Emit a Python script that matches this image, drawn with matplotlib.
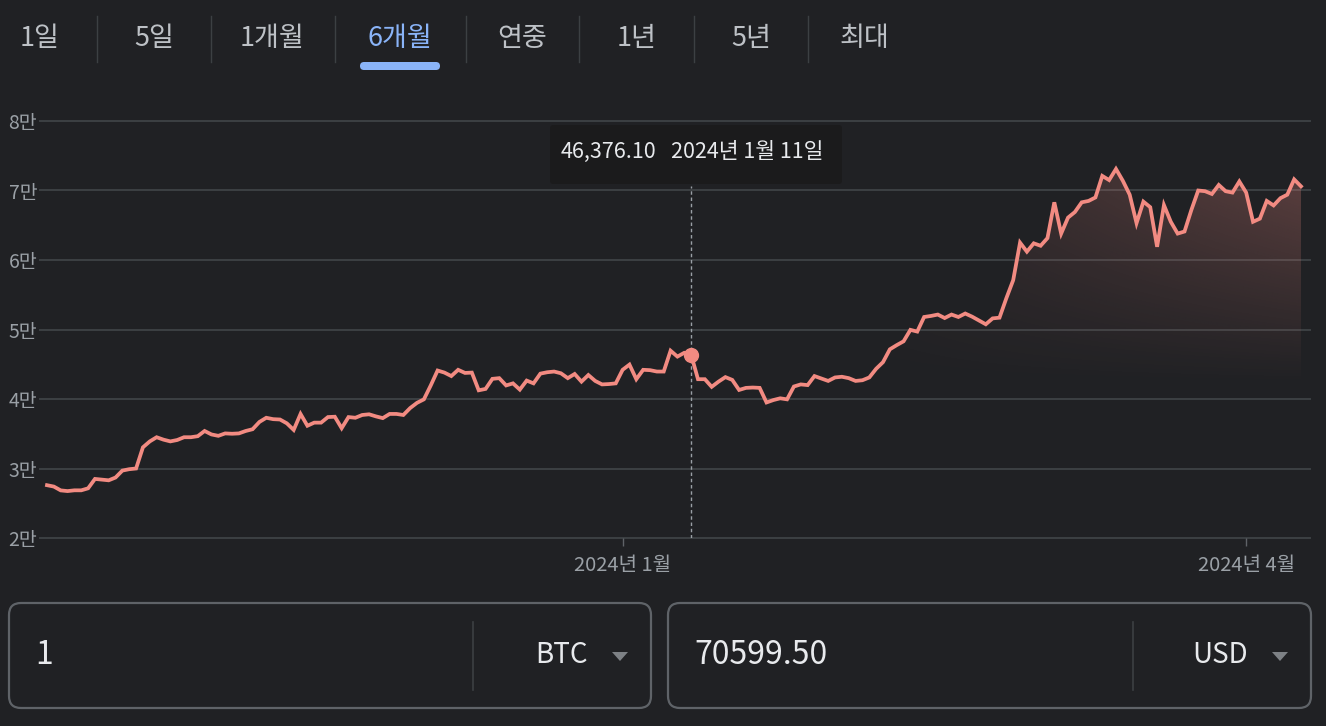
import numpy as np
import pandas as pd
import matplotlib
matplotlib.use('Agg')
import matplotlib.pyplot as plt
import matplotlib.dates as mdates
from matplotlib.patches import FancyBboxPatch, Polygon

plt.rcParams['font.family'] = ['Noto Sans CJK KR', 'DejaVu Sans']

# ---- data ----
tabs = ['1일', '5일', '1개월', '6개월', '연중', '1년', '5년', '최대']
selected_tab = '6개월'

dates = pd.date_range('2023-10-09', '2024-04-09', freq='D')
prices = [
    # Oct 9 - Oct 31
    27600, 27400, 26850, 26750, 26860, 26860, 27150, 28500, 28400, 28300,
    28700, 29700, 29900, 30000, 33050, 33900, 34500, 34150, 33900, 34100,
    34500, 34500, 34650,
    # Nov
    35400, 34900, 34700, 35050, 35000, 35050, 35400, 35650, 36700, 37300,
    37100, 37050, 36500, 35550, 37850, 36150, 36600, 36600, 37400, 37450,
    35800, 37400, 37300, 37700, 37800, 37500, 37250, 37850, 37850, 37700,
    # Dec
    38700, 39450, 39950, 41950, 44100, 43800, 43300, 44200, 43750, 43800,
    41250, 41450, 42900, 43000, 41950, 42250, 41350, 42650, 42250, 43650,
    43850, 43950, 43700, 43000, 43600, 42500, 43450, 42600, 42100, 42150,
    42250,
    # Jan
    44200, 44950, 42850, 44200, 44150, 43950, 43950, 46950, 46100, 46650,
    46376.10, 42850, 42850, 41750, 42500, 43150, 42750, 41300, 41600, 41650,
    41600, 39500, 39850, 40100, 39950, 41800, 42100, 42000, 43300, 42950,
    42600,
    # Feb
    43100, 43200, 43000, 42600, 42700, 43100, 44350, 45300, 47150, 47750,
    48300, 49950, 49700, 51800, 51950, 52150, 51650, 52150, 51800, 52300,
    51850, 51300, 50750, 51600, 51700, 54500, 57100, 62500, 61200,
    # Mar
    62400, 62050, 63150, 68300, 63800, 66100, 66900, 68300, 68500, 69000,
    72100, 71500, 73100, 71400, 69400, 65300, 68400, 67600, 61900, 67900,
    65500, 63800, 64100, 67200, 70000, 69900, 69500, 70800, 69900, 69700,
    71300,
    # Apr 1 - Apr 9
    69700, 65500, 65950, 68500, 67850, 68900, 69400, 71600, 70599.50,
]

y_ticks = [20000, 30000, 40000, 50000, 60000, 70000, 80000]
y_tick_labels = ['2만', '3만', '4만', '5만', '6만', '7만', '8만']
x_ticks = pd.to_datetime(['2024-01-01', '2024-04-01'])
x_tick_labels = ['2024년 1월', '2024년 4월']

hover_date = pd.Timestamp('2024-01-11')
hover_text = '46,376.10'
hover_label = '2024년 1월 11일'

amount = '1'
from_cur = 'BTC'
converted = '70599.50'
to_cur = 'USD'

# ---- style ----
BG = '#202124'
LINE = '#f28b82'
GRID = '#3c4043'
MUTED = '#9aa0a6'
TEXT = '#e8eaed'
BLUE = '#8ab4f8'
W, H = 1326, 726

fig = plt.figure(figsize=(W / 100, H / 100), dpi=100, facecolor=BG)

# chart axes: pixel box x 40..1310, y 121..538
ax = fig.add_axes([40 / W, 1 - 538 / H, 1270 / W, 417 / H])
ax.set_facecolor(BG)
for s in ax.spines.values():
    s.set_visible(False)

xnum = mdates.date2num(dates)
px_day = (1301 - 47) / (len(dates) - 1)
ax.set_xlim(xnum[0] - 7 / px_day, xnum[0] + (1310 - 47) / px_day)
ax.set_ylim(20000, 80000)

for yt in y_ticks:
    ax.axhline(yt, color=GRID, lw=1.4, zorder=0, clip_on=False)

ax.set_yticks(y_ticks)
ax.set_yticklabels(y_tick_labels)
ax.set_xticks(x_ticks)
ax.set_xticklabels(x_tick_labels)
ax.tick_params(axis='y', length=0, pad=2, labelsize=14, labelcolor=MUTED)
ax.tick_params(axis='x', direction='out', length=6, width=1, color='#5f6368',
               pad=6, labelsize=14.5, labelcolor=MUTED)

# gradient area under the line (fades to the left and downward)
p = np.array(prices)
gx = np.linspace(xnum[0], xnum[-1], 400)
gy = np.linspace(20000, 80000, 300)
GX, GY = np.meshgrid(gx, gy)
hx = np.clip((GX - xnum[0] - 108) / (xnum[-1] - xnum[0] - 108), 0, 1)
vy = np.clip((GY - 42000) / (70000 - 42000), 0, 1)
rgba = np.zeros(GX.shape + (4,))
rgba[..., 0], rgba[..., 1], rgba[..., 2] = 242 / 255, 139 / 255, 130 / 255
rgba[..., 3] = 0.26 * hx * vy
img = ax.imshow(rgba, extent=[xnum[0], xnum[-1], 20000, 80000], origin='lower',
                aspect='auto', zorder=1, interpolation='bilinear')
verts = np.vstack([np.column_stack([xnum, p]),
                   [[xnum[-1], 20000], [xnum[0], 20000]]])
poly = Polygon(verts, closed=True, facecolor='none', edgecolor='none')
ax.add_patch(poly)
img.set_clip_path(poly)

ax.plot(xnum, p, color=LINE, lw=2.7, zorder=3, solid_joinstyle='miter')

# hover marker
hx_num = mdates.date2num(hover_date)
hover_price = p[list(dates).index(hover_date)]
ax.plot([hx_num, hx_num], [20000, 70600], color=MUTED, lw=1, ls=(0, (2.5, 2)),
        zorder=2)
ax.plot(hx_num, hover_price, 'o', ms=10, color=LINE, zorder=4)

# ---- overlay in pixel coordinates ----
ov = fig.add_axes([0, 0, 1, 1])
ov.set_xlim(0, W)
ov.set_ylim(H, 0)
ov.axis('off')

# tabs
tab_x = [40, 154, 272, 400, 522, 637, 751, 864]
sep_x = [97, 211, 335, 466, 579, 694, 808]
for t, x in zip(tabs, tab_x):
    c = BLUE if t == selected_tab else '#bdc1c6'
    ov.text(x, 38, t, color=c, fontsize=19.5, ha='center', va='center')
for x in sep_x:
    ov.plot([x, x], [16, 62], color=GRID, lw=1)
sel = tab_x[tabs.index(selected_tab)]
ov.add_patch(FancyBboxPatch((sel - 40, 62), 80, 8,
                            boxstyle='round,pad=0,rounding_size=4',
                            facecolor=BLUE, edgecolor='none'))

# tooltip
ov.add_patch(FancyBboxPatch((550, 125), 292, 59,
                            boxstyle='round,pad=0,rounding_size=3',
                            facecolor='#1b1b1c', edgecolor='none'))
ov.text(561, 152, hover_text, color=TEXT, fontsize=15.5, ha='left', va='center')
ov.text(671, 152, hover_label, color=TEXT, fontsize=15.5, ha='left', va='center')

# converter boxes
for bx, bw, sepx, val, cur, trix in [(9, 642, 473, amount, from_cur, 620),
                                     (668, 643, 1133, converted, to_cur, 1280)]:
    ov.add_patch(FancyBboxPatch((bx, 603), bw, 105,
                                boxstyle='round,pad=0,rounding_size=12',
                                facecolor='none', edgecolor='#5f6368', lw=1.6))
    ov.plot([sepx, sepx], [622, 690], color=GRID, lw=1.2)
    ov.text(bx + 26, 655, val, color=TEXT, fontsize=23, ha='left', va='center')
    ov.text(trix - 32, 655, cur, color=TEXT, fontsize=20, ha='right', va='center')
    ov.add_patch(Polygon([[trix - 8, 652], [trix + 8, 652], [trix, 661]],
                         closed=True, facecolor='#7d8185', edgecolor='none'))

plt.savefig('out.png', dpi=100, facecolor=BG)
